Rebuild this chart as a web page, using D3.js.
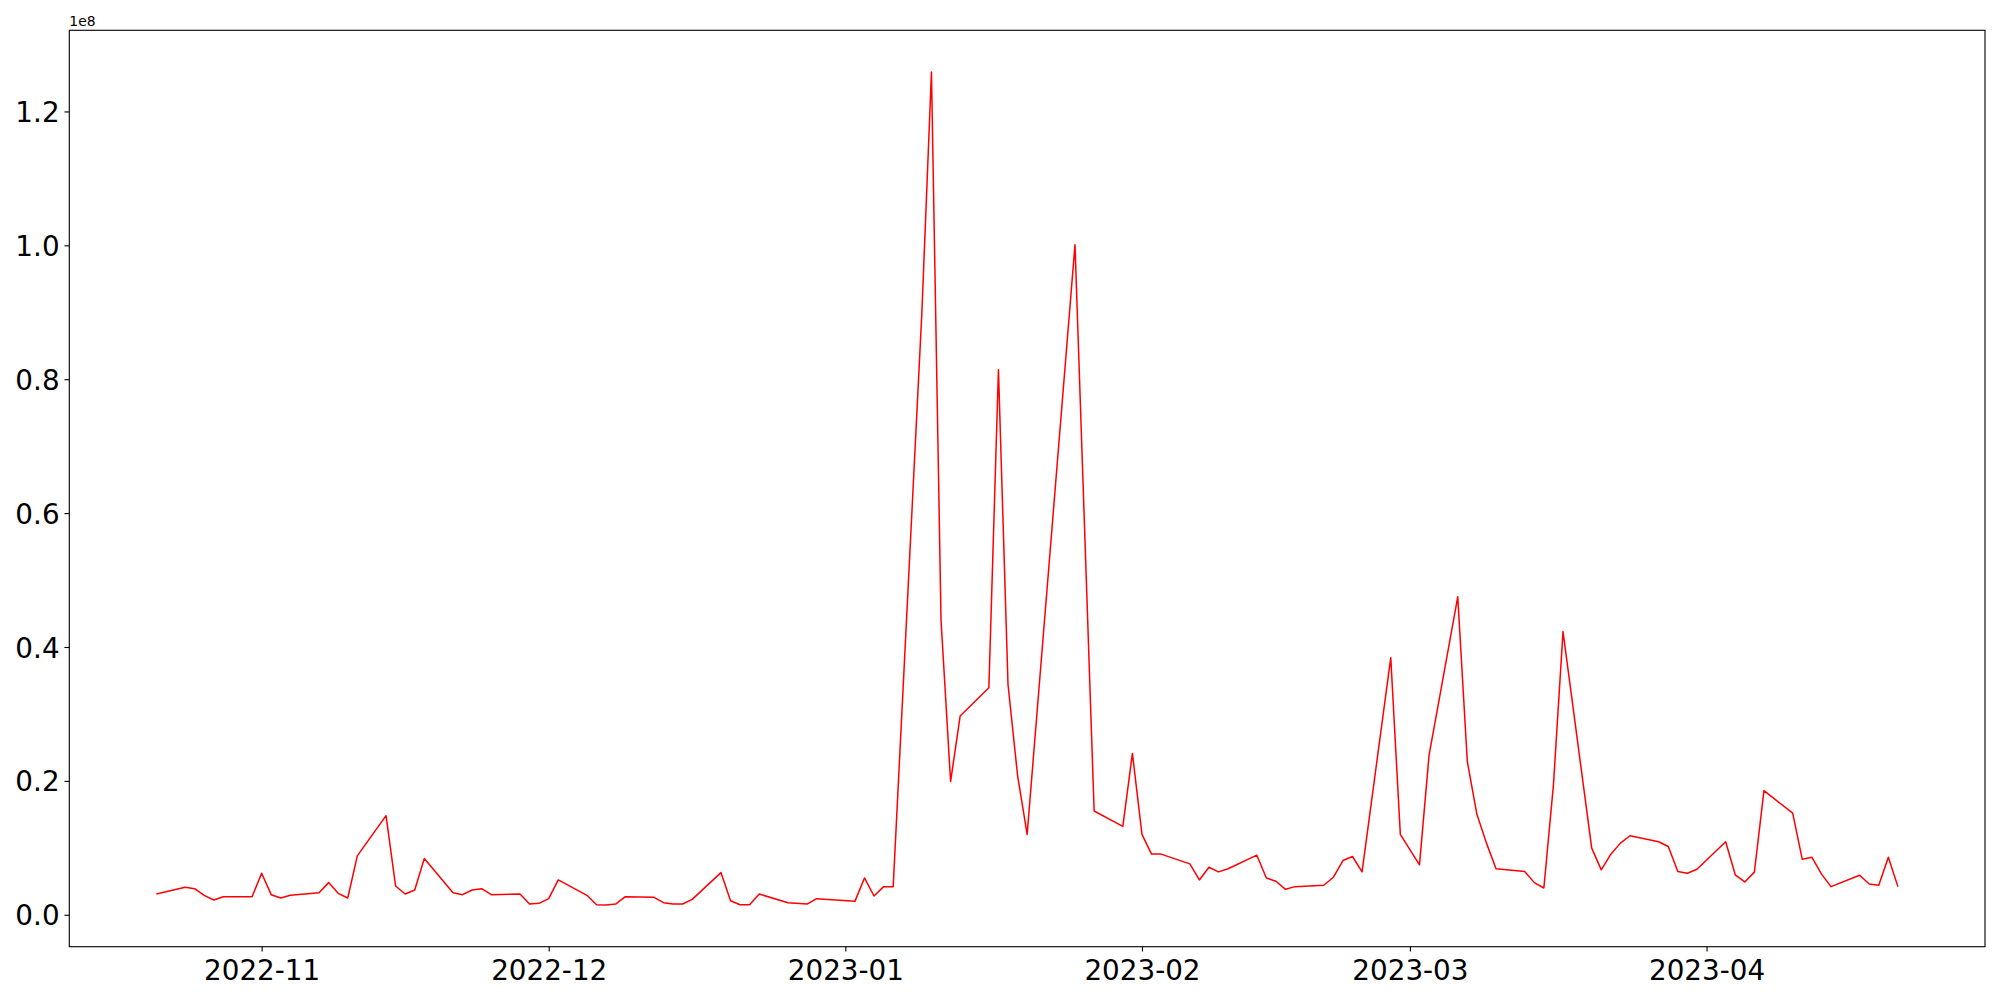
<!DOCTYPE html>
<html>
<head>
<meta charset="utf-8">
<script src="https://cdn.jsdelivr.net/npm/d3@7"></script>
<style>
    body { margin: 0; background: #fff; }
    svg text { font-family: "DejaVu Sans", sans-serif; }
</style>
</head>
<body>
<div id="chart"></div>
<script>
// Trading days (gaps are weekends / missing days)
const dates = [
    "2022-10-21", "2022-10-24", "2022-10-25", "2022-10-26", "2022-10-27", "2022-10-28", "2022-10-31",
    "2022-11-01", "2022-11-02", "2022-11-03", "2022-11-04", "2022-11-07", "2022-11-08", "2022-11-09",
    "2022-11-10", "2022-11-11", "2022-11-14", "2022-11-15", "2022-11-16", "2022-11-17", "2022-11-18",
    "2022-11-21", "2022-11-22", "2022-11-23", "2022-11-24", "2022-11-25", "2022-11-28", "2022-11-29",
    "2022-11-30", "2022-12-01", "2022-12-02", "2022-12-05", "2022-12-06", "2022-12-07", "2022-12-08",
    "2022-12-09", "2022-12-12", "2022-12-13", "2022-12-14", "2022-12-15", "2022-12-16", "2022-12-19",
    "2022-12-20", "2022-12-21", "2022-12-22", "2022-12-23", "2022-12-26", "2022-12-28", "2022-12-29",
    "2023-01-02", "2023-01-03", "2023-01-04", "2023-01-05", "2023-01-06", "2023-01-09", "2023-01-10",
    "2023-01-11", "2023-01-12", "2023-01-13", "2023-01-16", "2023-01-17", "2023-01-18", "2023-01-19",
    "2023-01-20", "2023-01-25", "2023-01-27", "2023-01-30", "2023-01-31", "2023-02-01", "2023-02-02",
    "2023-02-03", "2023-02-06", "2023-02-07", "2023-02-08", "2023-02-09", "2023-02-10", "2023-02-13",
    "2023-02-14", "2023-02-15", "2023-02-16", "2023-02-17", "2023-02-20", "2023-02-21", "2023-02-22",
    "2023-02-23", "2023-02-24", "2023-02-27", "2023-02-28", "2023-03-02", "2023-03-03", "2023-03-06",
    "2023-03-07", "2023-03-08", "2023-03-09", "2023-03-10", "2023-03-13", "2023-03-14", "2023-03-15",
    "2023-03-16", "2023-03-17", "2023-03-20", "2023-03-21", "2023-03-22", "2023-03-23", "2023-03-24",
    "2023-03-27", "2023-03-28", "2023-03-29", "2023-03-30", "2023-03-31", "2023-04-03", "2023-04-04",
    "2023-04-05", "2023-04-06", "2023-04-07", "2023-04-10", "2023-04-11", "2023-04-12", "2023-04-13",
    "2023-04-14", "2023-04-17", "2023-04-18", "2023-04-19", "2023-04-20", "2023-04-21"
];

// Values in millions
const valuesM = [
    3.1, 4.1, 3.9, 2.9, 2.2, 2.7, 2.7,
    6.2, 3.0, 2.5, 2.9, 3.3, 4.8, 3.2,
    2.5, 8.8, 14.8, 4.3, 3.1, 3.7, 8.4,
    3.3, 3.0, 3.7, 3.9, 3.0, 3.1, 1.6,
    1.7, 2.4, 5.2, 2.9, 1.5, 1.45, 1.6,
    2.7, 2.6, 1.8, 1.6, 1.6, 2.3, 6.3,
    2.1, 1.5, 1.5, 3.1, 1.8, 1.6, 2.4,
    2.0, 5.5, 2.8, 4.2, 4.2, 90.0, 125.9,
    44.0, 19.9, 29.7, 33.9, 81.4, 34.4, 20.8,
    12.0, 100.1, 15.5, 13.2, 24.1, 12.0, 9.06,
    9.06, 7.6, 5.2, 7.1, 6.4, 6.87, 8.9,
    5.5, 5.0, 3.8, 4.2, 4.4, 5.6, 8.1,
    8.7, 6.4, 38.4, 12.0, 7.46, 23.8, 47.5,
    22.9, 15.0, 10.7, 6.87, 6.47, 4.8, 4.0,
    19.4, 42.3, 9.95, 6.7, 9.05, 10.7, 11.8,
    10.9, 10.2, 6.47, 6.2, 6.8, 10.9, 5.97,
    4.9, 6.37, 18.55, 15.17, 8.3, 8.6, 6.1,
    4.2, 5.9, 4.6, 4.4, 8.6, 4.2
];

const monthTicks = ["2022-11-01", "2022-12-01", "2023-01-01", "2023-02-01", "2023-03-01", "2023-04-01"];
const yTicks = [0, 0.2, 0.4, 0.6, 0.8, 1.0, 1.2];

document.addEventListener("DOMContentLoaded", function() {
    drawChart();
});

function drawChart() {
    const width = 2000;
    const height = 1000;
    const margin = { top: 30.3, right: 15, bottom: 53.3, left: 69.3 };
    const fontSize = 27.8;

    const parse = d3.utcParse("%Y-%m-%d");
    const data = dates.map((d, i) => ({ date: parse(d), value: valuesM[i] * 1e6 }));

    const svg = d3.select("#chart")
        .append("svg")
        .attr("width", width)
        .attr("height", height);

    // matplotlib style 5% margins around the data
    const x0 = data[0].date.getTime();
    const x1 = data[data.length - 1].date.getTime();
    const xPad = (x1 - x0) * 0.05;
    const xScale = d3.scaleUtc()
        .domain([new Date(x0 - xPad), new Date(x1 + xPad)])
        .range([margin.left, width - margin.right]);

    const yMin = d3.min(data, d => d.value);
    const yMax = d3.max(data, d => d.value);
    const yPad = (yMax - yMin) * 0.05;
    const yScale = d3.scaleLinear()
        .domain([yMin - yPad, yMax + yPad])
        .range([height - margin.bottom, margin.top]);

    // Line
    const line = d3.line()
        .x(d => xScale(d.date))
        .y(d => yScale(d.value));

    svg.append("path")
        .datum(data)
        .attr("fill", "none")
        .attr("stroke", "#ff0000")
        .attr("stroke-width", 1.5)
        .attr("stroke-linejoin", "round")
        .attr("d", line);

    // Axes
    const xAxis = svg.append("g")
        .attr("transform", `translate(0,${height - margin.bottom})`)
        .call(d3.axisBottom(xScale)
            .tickValues(monthTicks.map(parse))
            .tickFormat(d3.utcFormat("%Y-%m"))
            .tickSize(4.86)
            .tickSizeOuter(0)
            .tickPadding(4.86));

    const yAxis = svg.append("g")
        .attr("transform", `translate(${margin.left},0)`)
        .call(d3.axisLeft(yScale)
            .tickValues(yTicks.map(v => v * 1e8))
            .tickFormat(v => (v / 1e8).toFixed(1))
            .tickSize(4.86)
            .tickSizeOuter(0)
            .tickPadding(4.86));

    [xAxis, yAxis].forEach(g => {
        g.select(".domain").remove();
        g.selectAll(".tick line").attr("stroke", "#000").attr("stroke-width", 1.11);
        g.selectAll(".tick text")
            .attr("fill", "#000")
            .style("font-size", fontSize + "px")
            .style("font-family", "DejaVu Sans");
    });
    xAxis.selectAll(".tick text").attr("dy", null).attr("y", 33.3);
    yAxis.selectAll(".tick text").attr("dy", "0.36em");

    // Frame around the plot area
    svg.append("rect")
        .attr("x", margin.left)
        .attr("y", margin.top)
        .attr("width", width - margin.left - margin.right)
        .attr("height", height - margin.top - margin.bottom)
        .attr("fill", "none")
        .attr("stroke", "#000")
        .attr("stroke-width", 1.11);

    // Offset text for the y axis
    svg.append("text")
        .attr("x", margin.left)
        .attr("y", margin.top - 4.5)
        .style("font-size", "13.9px")
        .attr("fill", "#000")
        .text("1e8");
}
</script>
</body>
</html>
